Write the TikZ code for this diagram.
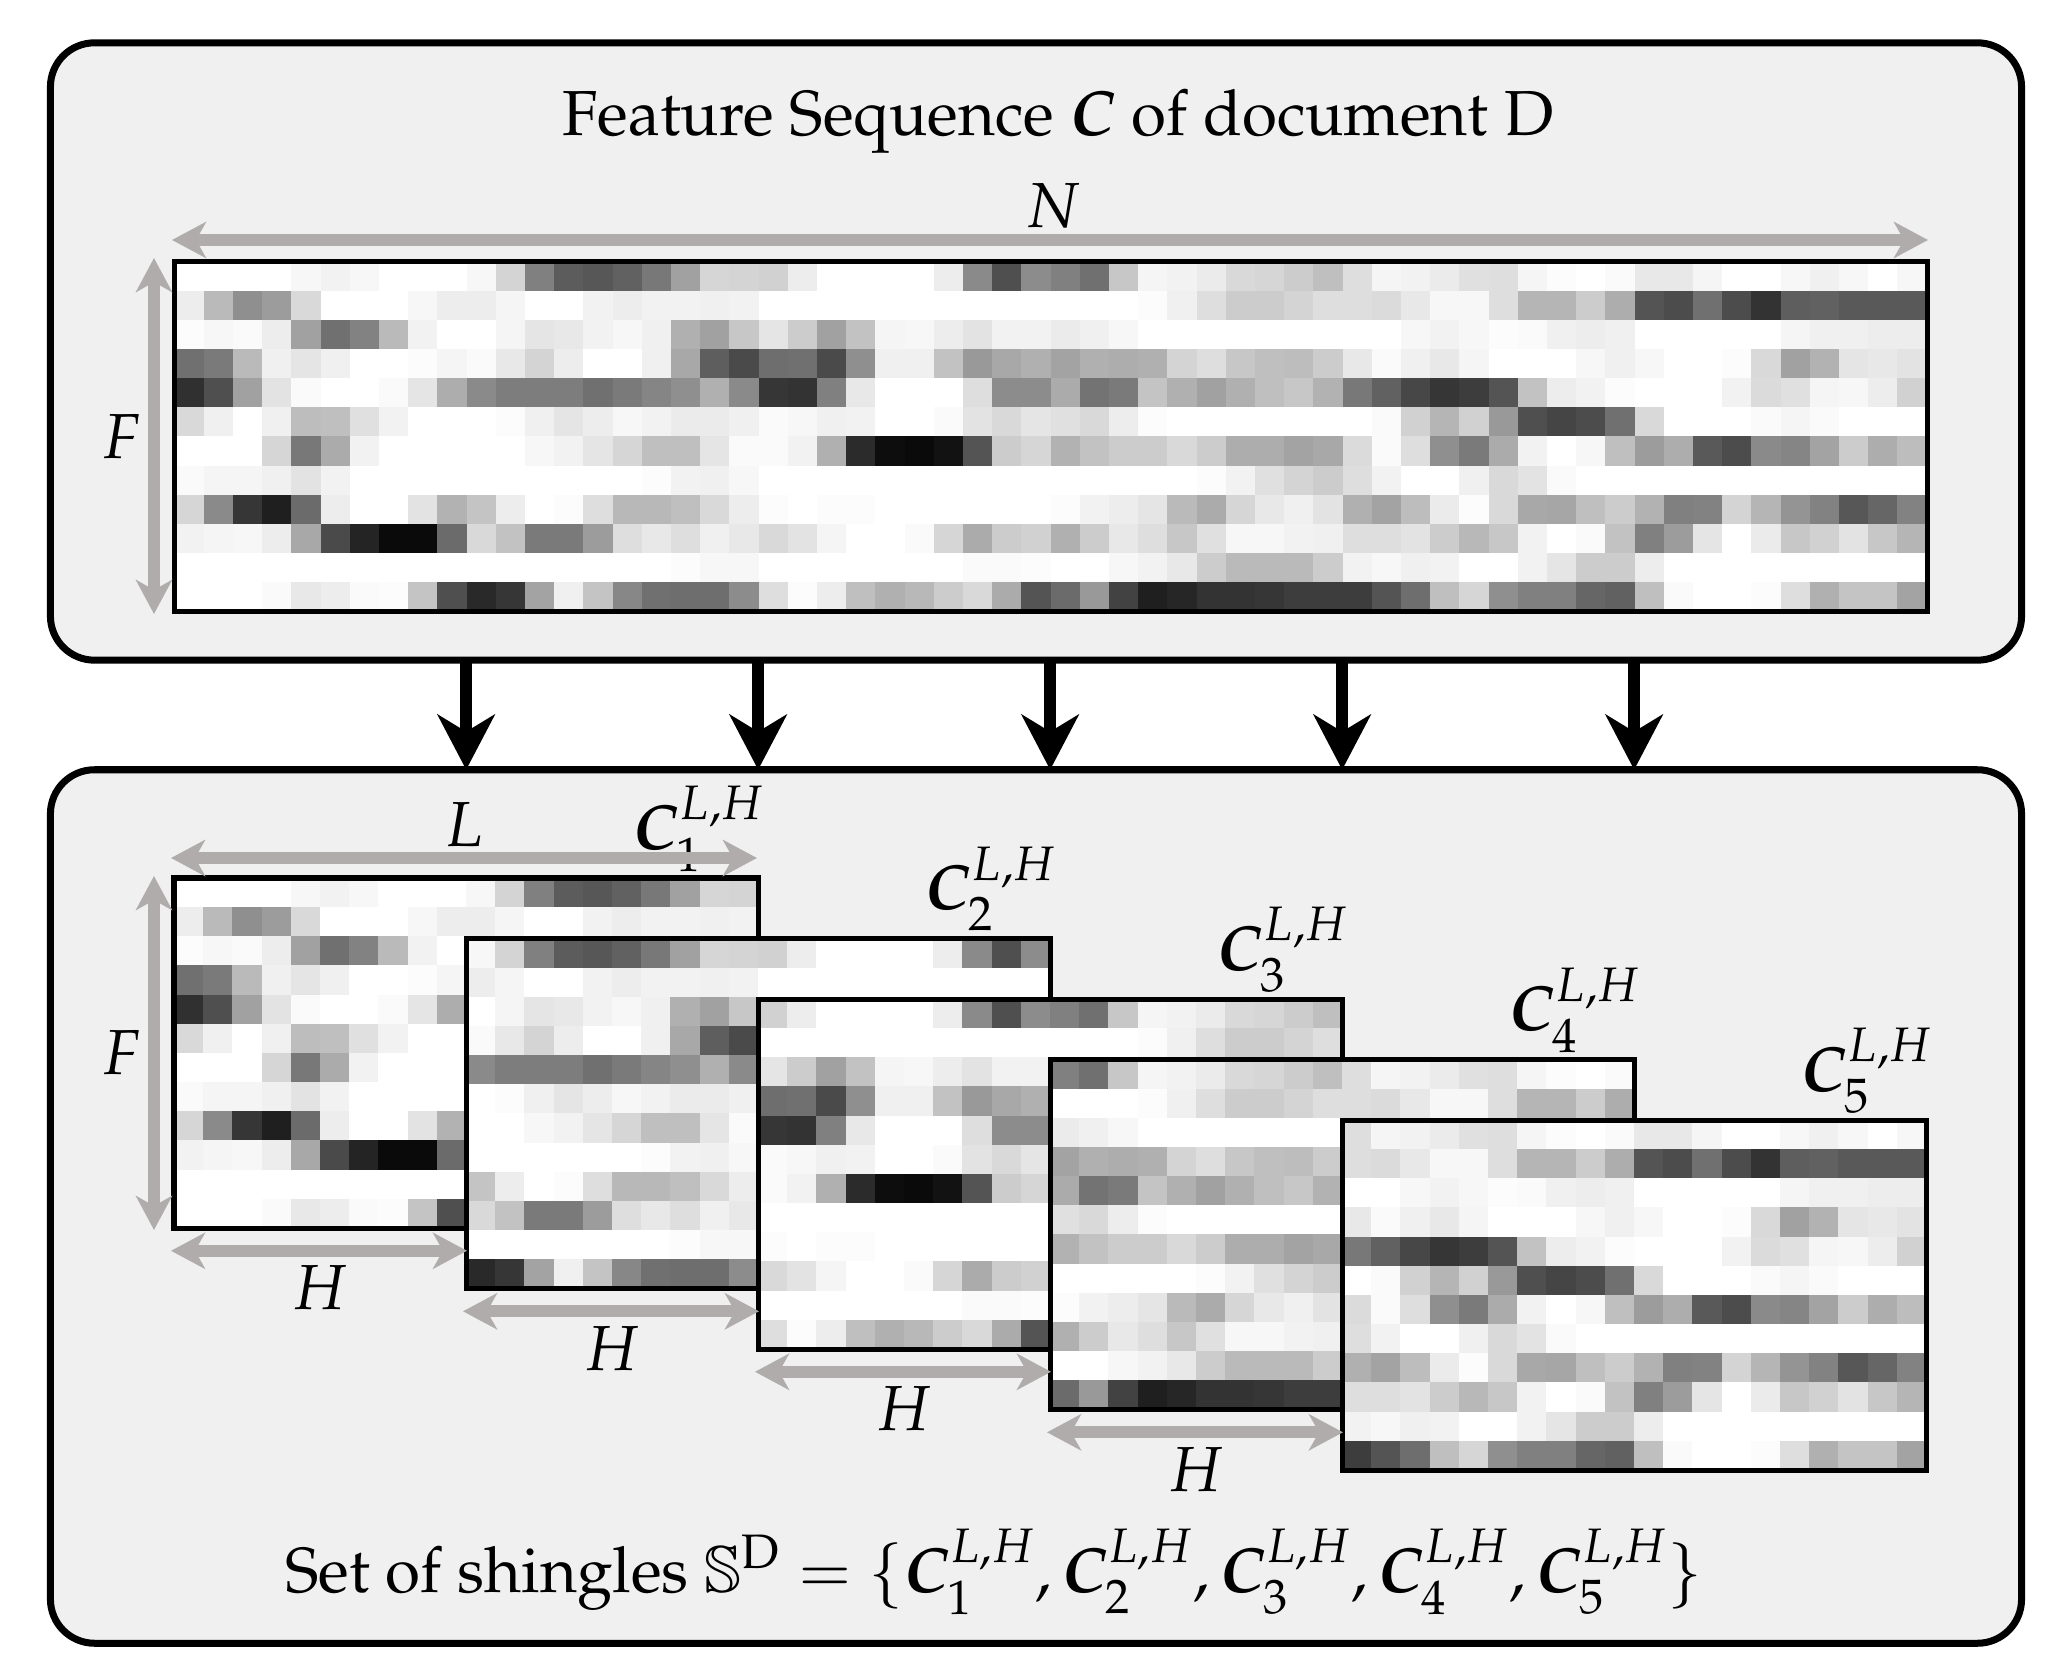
\documentclass[tikz,border=0pt]{standalone}
\usepackage[T1]{fontenc}
\usepackage{mathpazo}
\usepackage{amssymb}
\usepackage{bm}
\DeclareMathAlphabet{\msbb}{U}{msb}{m}{n}
\usetikzlibrary{arrows.meta}
\definecolor{panelgray}{RGB}{240,240,240}
\definecolor{arrowgray}{RGB}{176,172,172}
\newcommand\setheatrow[2]{\foreach \v [count=\c from 0] in {#2}{\expandafter\xdef\csname hv#1-\c\endcsname{\v}}}
\setheatrow{0}{0,0,0,0,3,5,3,0,0,0,3,17,50,64,66, 62,53,37,16,17,18,7,0,0,0,0,7,46,69,45, 50,56,22,4,5,8,15,16,20,25,13,4,5,8,12, 13,4,1,0,2,9,9,4,0,0,3,6,3,0,3}
\setheatrow{1}{7,27,44,39,15,0,0,0,3,7,7,4,0,0,5, 7,5,5,6,5,0,0,0,0,0,0,0,0,0,0, 0,0,0,1,6,13,20,20,17,13,13,14,9,3,3, 13,29,29,20,32,67,70,56,70,80,63,62,65,65,65}
\setheatrow{2}{1,3,2,7,37,56,49,27,5,0,0,4,10,9,5, 3,6,31,37,22,10,20,37,24,4,3,7,11,5,5, 8,6,3,0,0,0,0,0,0,0,0,0,3,5,3, 1,2,6,7,6,0,0,0,0,0,4,6,6,7,7}
\setheatrow{3}{56,52,27,6,10,6,0,0,1,4,2,9,17,7,0, 0,6,34,63,71,57,56,71,44,6,6,24,40,34,31, 36,31,32,31,17,13,22,25,26,20,9,2,6,9,4, 0,0,0,3,6,3,0,0,1,15,37,30,10,9,11}
\setheatrow{4}{81,69,37,11,2,0,0,2,10,32,46,51,51,51,56, 52,48,44,31,46,79,80,50,9,0,0,0,13,45,45, 33,55,52,23,31,37,31,25,22,30,53,62,72,79,76, 67,24,7,5,1,0,0,0,5,14,12,4,3,7,18}
\setheatrow{5}{15,6,0,6,26,25,12,5,0,0,0,1,6,10,7, 3,5,8,8,6,2,3,6,5,0,0,2,11,15,10, 12,15,7,1,0,0,0,0,0,0,0,2,18,29,18, 40,69,73,70,56,15,0,0,0,2,4,2,0,0,0}
\setheatrow{6}{0,0,0,16,53,33,5,0,0,0,0,0,3,5,10, 16,25,25,10,2,2,5,31,83,95,96,93,67,20,16, 30,24,20,20,15,20,32,32,36,34,14,2,13,44,52, 33,5,0,3,25,39,32,65,70,46,48,36,20,32,26}
\setheatrow{7}{2,4,4,6,11,5,0,0,0,0,0,0,0,0,0, 0,1,5,6,3,0,0,0,0,0,0,0,0,0,0, 0,0,0,0,0,1,5,12,17,20,13,5,0,0,6, 15,11,2,0,0,0,0,0,0,0,0,0,0,0,0}
\setheatrow{8}{16,46,79,88,58,7,0,0,11,30,23,7,0,1,13, 28,28,25,15,7,1,0,1,1,0,0,0,0,0,0, 1,5,7,10,27,33,16,9,6,11,31,36,26,8,1, 15,34,35,25,20,30,50,49,17,29,42,49,66,60,49}
\setheatrow{9}{5,4,3,7,34,71,86,96,96,58,15,24,52,52,39, 13,9,13,6,9,15,11,4,0,0,2,16,33,20,18, 31,20,9,13,22,12,3,3,5,6,13,13,11,20,28, 22,5,0,2,24,50,39,10,0,8,22,18,11,22,29}
\setheatrow{10}{0,0,0,0,0,0,0,0,0,0,0,0,0,0,0, 0,0,1,3,3,0,0,0,0,0,0,0,2,2,1, 0,0,3,5,9,20,27,27,27,20,5,3,6,5,0, 0,5,10,20,20,7,0,0,0,0,0,0,0,0,0}
\setheatrow{11}{0,0,0,2,9,7,2,1,23,69,84,79,36,6,23, 47,56,57,57,45,13,1,7,25,31,28,20,15,33,67, 58,40,74,88,85,80,80,79,76,76,76,67,57,25,16, 44,50,50,60,62,25,2,0,0,1,13,31,23,23,36}
% #1 x0, #2 y0, #3 first column, #4 last column
\newcommand\heatcells[4]{%
  \foreach \r in {0,...,11}{%
    \foreach \c in {#3,...,#4}{%
      \edef\hv{\csname hv\r-\c\endcsname}%
      \pgfmathsetmacro\xx{#1+(\c-#3)*29.2}%
      \pgfmathsetmacro\yy{#2+\r*29.15}%
      \fill[black!\hv] (\xx,\yy) rectangle ++(29.4,29.35);
    }}}
\begin{document}
\begin{tikzpicture}[x=0.01cm,y=-0.01cm,
  every node/.style={font=\fontsize{18.1}{22}\selectfont, inner sep=0pt, outer sep=0pt},
  panel/.style={draw=black, line width=0.07cm, fill=panelgray, rounded corners=0.44cm},
  hmframe/.style={draw=black, line width=0.05cm, anchor=north west},
  dimarrow/.style={draw=arrowgray, line width=0.12cm,
    {Stealth[length=0.34cm,width=0.36cm,inset=0.1cm]}-{Stealth[length=0.34cm,width=0.36cm,inset=0.1cm]}},
  flowarrow/.style={draw=black, line width=0.125cm, -{Stealth[length=0.55cm,width=0.57cm,inset=0.17cm]}},
  lbl/.style={text=black}]
\fill[white] (0,0) rectangle (2056,1679);
\useasboundingbox (0,0) rectangle (2056,1679);
% panels
\node[panel, minimum width=19.70cm, minimum height=6.17cm] (topbox) at (1036,351.5) {};
\node[panel, minimum width=19.70cm, minimum height=8.73cm] (botbox) at (1036,1206.5) {};
% title
\node[lbl, anchor=base] (title) at (1058,136) {Feature Sequence $\bm{C}$ of document D};
% main heatmap
\heatcells{174.5}{261.5}{0}{59}
\node[hmframe, minimum width=17.52cm, minimum height=3.498cm] (hm) at (174.5,261.5) {};
\coordinate (nL) at (172,240);
\coordinate (nR) at (1928,240);
\draw[dimarrow] (nL) -- (nR);
\node[lbl] (nlab) at (1053,206) {$N$};
\coordinate (fT) at (154,258);
\coordinate (fB) at (154,614);
\draw[dimarrow] (fT) -- (fB);
\node[lbl] (flab) at (122,437) {$F$};
% shingles
\foreach \k in {1,...,5}{
  \pgfmathsetmacro\sx{174+292*(\k-1)}
  \pgfmathsetmacro\sy{878+60.5*(\k-1)}
  \pgfmathtruncatemacro\ca{10*(\k-1)}
  \pgfmathtruncatemacro\cb{10*(\k-1)+19}
  \heatcells{\sx}{\sy}{\ca}{\cb}
  \node[hmframe, minimum width=5.84cm, minimum height=3.498cm] (s\k) at (\sx,\sy) {};
  \pgfmathsetmacro\lx{\sx+584+7}
  \pgfmathsetmacro\ly{\sy-29}
  \node[lbl, anchor=base east] (c\k) at (\lx,\ly) {$\bm{C}_{\k}^{L,H}$};
}
% H arrows below shingles 1-4
\foreach \k in {1,...,4}{
  \pgfmathsetmacro\sx{174+292*(\k-1)}
  \pgfmathsetmacro\hy{878+60.5*(\k-1)+349.8+23}
  \pgfmathsetmacro\hly{878+60.5*(\k-1)+349.8+60}
  \coordinate (h\k l) at (\sx-3,\hy);
  \coordinate (h\k r) at (\sx+293,\hy);
  \draw[dimarrow] (h\k l) -- (h\k r);
  \node[lbl] (hlab\k) at (\sx+146,\hly) {$H$};
}
% L and F for the first shingle
\coordinate (lL) at (171,858);
\coordinate (lR) at (757,858);
\draw[dimarrow] (lL) -- (lR);
\node[lbl] (llab) at (464,825) {$L$};
\coordinate (gT) at (154,876);
\coordinate (gB) at (154,1230);
\draw[dimarrow] (gT) -- (gB);
\node[lbl] (glab) at (122,1053) {$F$};
% flow arrows
\foreach \k in {1,...,5}{
  \draw[flowarrow] (topbox.south -| s\k.north) -- (botbox.north -| s\k.north);
}
% bottom text
\node[lbl, anchor=base] (settext) at (994,1592) {Set of shingles $\msbb{S}^{\mathrm{D}}=\{\bm{C}_1^{L,H},\bm{C}_2^{L,H},\bm{C}_3^{L,H},\bm{C}_4^{L,H},\bm{C}_5^{L,H}\}$};
\end{tikzpicture}
\end{document}
